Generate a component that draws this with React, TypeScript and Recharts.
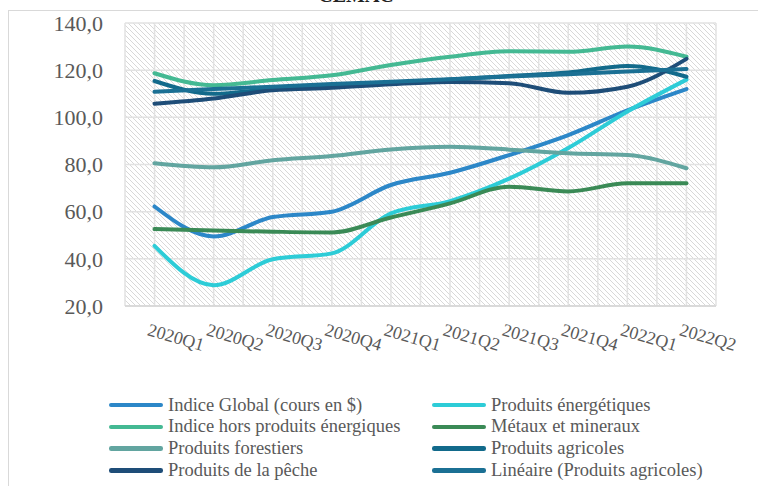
import React from 'react';
import { LineChart, Line, XAxis, YAxis, CartesianGrid } from 'recharts';

const quarters = ['2020Q1', '2020Q2', '2020Q3', '2020Q4', '2021Q1', '2021Q2', '2021Q3', '2021Q4', '2022Q1', '2022Q2'];

const indiceGlobal = [62.2, 49.5, 57.7, 60.0, 71.3, 76.5, 84.0, 92.5, 103.0, 112.0];
const produitsEnergetiques = [45.5, 28.8, 39.8, 42.3, 59.3, 64.5, 74.0, 87.0, 102.5, 116.0];
const indiceHorsEnergie = [118.7, 113.6, 115.8, 117.8, 122.2, 125.7, 128.0, 127.8, 130.0, 125.7];
const metauxMineraux = [52.6, 52.0, 51.5, 51.2, 57.5, 63.5, 70.6, 68.6, 72.0, 72.0];
const produitsForestiers = [80.5, 78.8, 81.8, 83.6, 86.4, 87.5, 86.3, 84.8, 84.0, 78.4];
const produitsAgricoles = [115.4, 110.0, 112.0, 113.0, 114.3, 116.0, 117.5, 119.0, 121.8, 117.2];
const produitsPeche = [105.8, 108.0, 111.5, 112.5, 114.0, 115.0, 114.5, 110.4, 113.0, 124.8];
const lineaireAgricoles = [110.9, 112.0, 113.0, 114.1, 115.1, 116.2, 117.3, 118.3, 119.4, 120.5];

const yTicks = [20, 40, 60, 80, 100, 120, 140];

const series = [
  { key: 'g', name: 'Indice Global (cours en $)', color: '#2C87C8', values: indiceGlobal },
  { key: 'e', name: 'Produits énergétiques', color: '#2DCCD7', values: produitsEnergetiques },
  { key: 'h', name: 'Indice hors produits énergiques', color: '#44B993', values: indiceHorsEnergie },
  { key: 'm', name: 'Métaux et mineraux', color: '#3A8A56', values: metauxMineraux },
  { key: 'f', name: 'Produits forestiers', color: '#62A5A0', values: produitsForestiers },
  { key: 'a', name: 'Produits agricoles', color: '#126A8B', values: produitsAgricoles },
  { key: 'p', name: 'Produits de la pêche', color: '#1E4D78', values: produitsPeche },
  { key: 'l', name: 'Linéaire (Produits agricoles)', color: '#1B7094', values: lineaireAgricoles },
];

const data = quarters.map((q, i) => {
  const row: any = { q };
  series.forEach((s) => { row[s.key] = s.values[i]; });
  return row;
});

const FONT = '"Liberation Serif", "Times New Roman", serif';

const XTick = (props: any) => {
  const { x, y, payload } = props;
  const ax = x - 8;
  const ay = y + 21;
  return (
    <text
      x={ax}
      y={ay}
      transform={`rotate(16 ${ax} ${ay})`}
      textAnchor="start"
      fontFamily={FONT}
      fontSize={18}
      fill="#595959"
    >
      {payload.value}
    </text>
  );
};

const legendOrder = [
  [0, 1],
  [2, 3],
  [4, 5],
  [6, 7],
];

export default function App() {
  return (
    <div style={{ position: 'absolute', left: 0, top: 0, width: 758, height: 486, overflow: 'hidden', background: '#fff' }}>
      <svg width={0} height={0} style={{ position: 'absolute' }}>
        <defs>
          <pattern id="hatch" width={5} height={5} patternUnits="userSpaceOnUse">
            <rect width={5} height={5} fill="#ffffff" />
            <path d="M0,0 L5,5 M-1,4 L1,6 M4,-1 L6,1" stroke="#D8D8D8" strokeWidth={1} />
          </pattern>
        </defs>
      </svg>
      <div style={{ position: 'absolute', left: 8, top: 10, width: 760, height: 490, border: '1px solid #D9D9D9', boxSizing: 'border-box' }} />
      <div style={{ position: 'absolute', left: 296, top: -15, width: 120, textAlign: 'center', fontFamily: FONT, fontWeight: 'bold', fontSize: 20, color: '#222', lineHeight: '20px' }}>
        CEMAC
      </div>
      <div style={{ position: 'absolute', left: 0, top: 0 }}>
        <LineChart width={758} height={486} data={data} margin={{ top: 23, right: 42, left: 0, bottom: 0 }}>
          <CartesianGrid
            fill="url(#hatch)"
            stroke="#E2E2E2"
            strokeWidth={1.5}
            verticalCoordinatesGenerator={({ offset }: any) => {
              const arr: number[] = [];
              for (let k = 0; k <= 20; k++) arr.push(offset.left + (offset.width * k) / 20);
              return arr;
            }}
          />
          <XAxis
            dataKey="q"
            height={180}
            interval={0}
            padding={{ left: 29.5, right: 29.5 }}
            tickLine={false}
            axisLine={{ stroke: '#D4D4D4', strokeWidth: 1.5 }}
            tick={<XTick />}
          />
          <YAxis
            width={125}
            domain={[20, 140]}
            ticks={yTicks}
            interval={0}
            axisLine={false}
            tickLine={false}
            tickMargin={16}
            tickFormatter={(v: number) => v.toFixed(1).replace('.', ',')}
            tick={{ fontFamily: FONT, fontSize: 22, fill: '#595959' }}
          />
          {series.map((s) => (
            <Line
              key={s.key}
              dataKey={s.key}
              name={s.name}
              type="monotone"
              stroke={s.color}
              strokeWidth={4}
              strokeLinecap="round"
              dot={false}
              activeDot={false}
              isAnimationActive={false}
            />
          ))}
        </LineChart>
      </div>
      {legendOrder.map((row, r) =>
        row.map((idx, c) => {
          const s = series[idx];
          const left = c === 0 ? 109 : 432;
          const cy = 405 + r * 21.8;
          return (
            <div key={s.key} style={{ position: 'absolute', left, top: cy - 12, height: 24, display: 'flex', alignItems: 'center', whiteSpace: 'nowrap' }}>
              <div style={{ width: 54, height: 4.5, borderRadius: 2.25, background: s.color, marginRight: 5 }} />
              <span style={{ fontFamily: FONT, fontSize: 18.5, color: '#595959' }}>{s.name}</span>
            </div>
          );
        })
      )}
    </div>
  );
}
